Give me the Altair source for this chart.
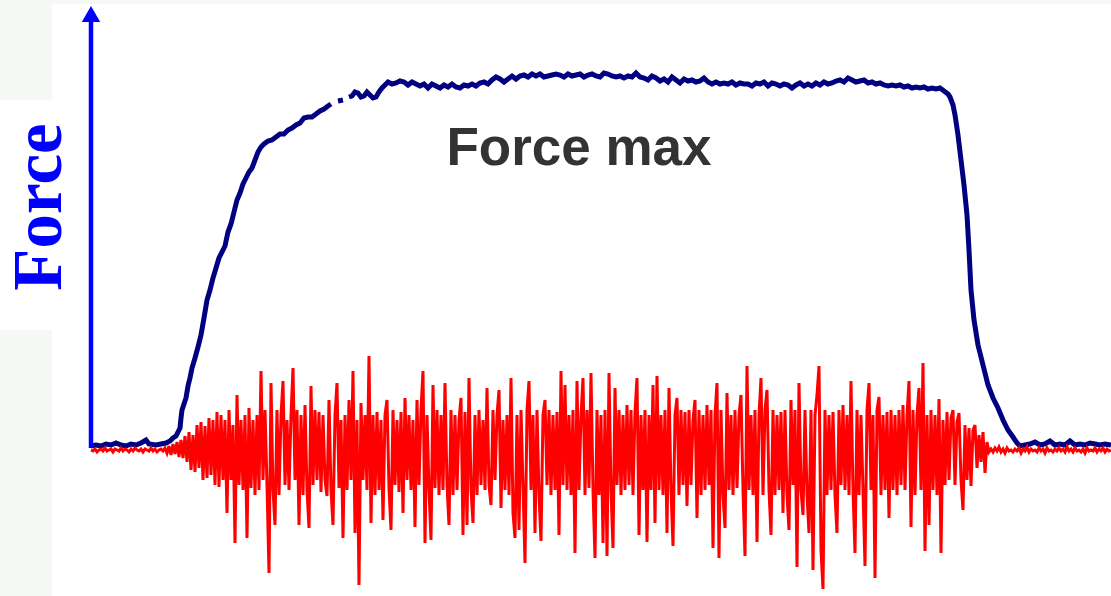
import altair as alt
import pandas as pd

# ---------------------------------------------------------------------------
# Force signal (N) during a maximal isometric contraction
# ---------------------------------------------------------------------------
rise_t = [0.00, 0.05, 0.10, 0.15, 0.20, 0.25, 0.30, 0.35, 0.40, 0.45,
          0.50, 0.55, 0.58, 0.65, 0.70, 0.75, 0.79, 0.82, 0.85, 0.87,
          0.89, 0.90, 0.91, 0.93, 0.95, 0.97, 0.99, 1.01, 1.04, 1.07,
          1.10, 1.13, 1.16, 1.19, 1.22, 1.25, 1.28, 1.31, 1.34, 1.37,
          1.40, 1.43, 1.46, 1.49, 1.52, 1.55, 1.58, 1.61, 1.64, 1.67,
          1.70, 1.73, 1.77, 1.81, 1.85, 1.89, 1.93, 1.97, 2.01, 2.05,
          2.09, 2.13, 2.17, 2.21, 2.25, 2.29, 2.33, 2.37, 2.40, 2.44,
          2.47, 2.52, 2.55, 2.58, 2.61, 2.64, 2.67, 2.70, 2.73, 2.76,
          2.79, 2.82, 2.85, 2.88, 2.91, 2.94, 2.97]
rise_n = [-2, -1, -2, 0, -1, 1, -1, -2, 0, -1,
          1, 4, 0, -1, 0, 1, 3, 6, 8, 12,
          16, 26, 34, 40, 46, 58, 66, 76, 86, 97,
          109, 126, 144, 154, 166, 176, 186, 192, 198, 212,
          220, 232, 244, 251, 260, 266, 272, 276, 284, 292,
          297, 300, 303, 304, 307, 310, 310, 314, 316, 319,
          321, 326, 327, 327, 330, 333, 335, 338, 340, None,
          343, 344, None, 347, 348, 352, 351, 347, 348, 352,
          349, 346, 347, 352, 356, 359, 362]

# plateau, sampled every 40 ms from 3.01 s
plateau_start = 3.01
plateau_step = 0.04
plateau_n = [360, 361, 363, 362, 359, 362, 360, 358, 360, 356,
             360, 358, 356, 359, 357, 360, 357, 356, 359, 358,
             360, 358, 361, 362, 360, 364, 367, 365, 362, 365,
             368, 365, 368, 369, 367, 370, 368, 370, 367, 368,
             369, 370, 369, 367, 370, 368, 369, 370, 367, 369,
             370, 368, 367, 371, 370, 368, 367, 368, 366, 368,
             367, 371, 367, 366, 364, 368, 366, 363, 365, 362,
             367, 364, 361, 365, 363, 364, 362, 363, 366, 362,
             360, 362, 360, 361, 360, 362, 359, 361, 360, 360,
             358, 361, 360, 362, 358, 361, 360, 358, 360, 359,
             356, 359, 361, 358, 360, 358, 361, 359, 362, 360,
             361, 363, 364, 362, 366, 364, 362, 363, 364, 361,
             362, 360, 361, 359, 358, 359, 358, 359, 357, 358,
             356, 357, 356, 357, 355, 356, 355, 356, 353]

fall_t = [8.57, 8.59, 8.62, 8.64, 8.67, 8.70, 8.73, 8.76, 8.78, 8.80,
          8.83, 8.87, 8.92, 8.97, 9.02, 9.07, 9.12, 9.17, 9.22, 9.26,
          9.29, 9.34, 9.39, 9.44, 9.49, 9.54, 9.59, 9.64, 9.69, 9.74,
          9.79, 9.84, 9.89, 9.94, 9.99, 10.04, 10.09, 10.14, 10.20]
fall_n = [350, 347, 339, 329, 309, 284, 259, 229, 194, 154,
          124, 99, 79, 59, 46, 36, 24, 14, 7, 1,
          -2, -1, 0, 2, -1, 0, 3, -1, 0, -1,
          3, -1, 0, -1, 1, 0, -1, 0, -1]

# ---------------------------------------------------------------------------
# Surface EMG (mV), sampled every 20 ms from 0 s
# ---------------------------------------------------------------------------
emg_step = 0.02
emg_rest_before = [0.00, -0.01, 0.01, -0.02, 0.00, 0.01, -0.01, 0.02, -0.01, 0.00,
                   0.01, -0.02, 0.01, 0.00, -0.01, 0.02, -0.01, 0.01, 0.00, -0.02,
                   0.01, -0.01, 0.02, 0.00, -0.01, 0.01, -0.02, 0.01, 0.00, -0.01,
                   0.02, -0.01, 0.01, -0.02, 0.00, 0.01, -0.01]
emg_burst = [0.02, -0.03, 0.04, -0.05, 0.06, -0.04, 0.08, -0.07, 0.10, -0.08,
             0.14, -0.12, 0.18, -0.20, 0.15, -0.22, 0.25, -0.18, 0.28, -0.30,
             0.24, -0.28, 0.32, -0.25, 0.30, -0.35, 0.38, -0.37, 0.35, -0.30,
             0.30, -0.63, 0.40, -0.30, 0.25, -0.93, 0.55, -0.35, 0.30, -0.40,
             0.35, -0.88, 0.42, -0.38, 0.30, -0.45, 0.35, -0.40, 0.79, -0.30,
             0.40, -0.35, -1.23, 0.67, -0.40, -0.75, 0.40, -0.45, 0.35, 0.69,
             -0.35, 0.30, -0.40, 0.35, 0.82, -0.30, 0.40, -0.75, 0.35, -0.45,
             0.45, -0.40, -0.78, 0.64, -0.35, 0.40, -0.30, 0.38, -0.42, 0.35,
             -0.30, -0.46, 0.50, -0.40, -0.75, 0.35, 0.67, -0.38, 0.30, -0.88,
             0.35, -0.40, 0.50, -0.30, 0.79, -0.83, 0.30, -1.35, 0.47, -0.30,
             0.35, -0.40, 0.94, -0.73, 0.35, -0.45, 0.38, -0.40, 0.30, -0.70,
             0.35, 0.50, -0.38, -0.80, 0.40, -0.35, 0.30, -0.42, 0.38, -0.63,
             0.52, -0.30, 0.35, -0.40, 0.30, -0.77, 0.50, -0.35, 0.40, 0.79,
             -0.93, 0.35, -0.40, -0.90, 0.65, -0.38, 0.40, -0.45, 0.35, -0.40,
             0.67, -0.35, -0.75, 0.40, -0.45, 0.35, -0.40, 0.30, 0.52, -0.85,
             0.38, -0.75, 0.72, -0.40, -0.73, 0.35, -0.45, 0.40, -0.35, 0.30,
             -0.40, 0.62, -0.35, -0.55, 0.40, -0.30, 0.35, 0.60, -0.58, 0.30,
             -0.40, 0.35, -0.45, 0.72, -0.63, -0.88, 0.35, -0.80, 0.40, -0.35,
             -1.13, 0.40, 0.69, -0.40, 0.35, -0.83, 0.40, -0.45, -0.91, 0.35,
             0.50, -0.35, 0.40, -0.45, 0.35, -0.40, 0.38, -0.85, 0.79, -0.35,
             0.65, -0.40, 0.35, -0.45, 0.40, -1.03, 0.69, -0.40, 0.35, 0.72,
             -0.45, 0.40, -0.38, 0.77, -0.40, -1.08, 0.40, -0.45, 0.35, -0.93,
             0.40, -1.06, 0.77, -0.40, -0.98, 0.62, -0.35, 0.40, -0.45, 0.35,
             -0.40, 0.45, -0.35, 0.40, -0.45, 0.38, 0.72, -0.85, 0.35, -0.40,
             0.40, -0.92, 0.35, -0.40, 0.65, -0.73, 0.74, -0.40, 0.35, -0.45,
             0.40, -0.83, 0.62, -0.40, -0.96, 0.35, 0.52, -0.45, 0.40, -0.35,
             0.38, -0.56, 0.40, -0.35, 0.30, 0.50, -0.68, 0.40, -0.45, 0.35,
             -0.40, 0.45, -0.35, 0.40, -0.98, 0.35, 0.67, -1.08, 0.40, -0.45,
             -0.78, 0.57, -0.40, 0.35, -0.45, 0.40, -0.38, 0.35, 0.55, -0.40,
             -1.06, 0.84, -0.40, 0.35, -0.45, 0.40, -0.92, 0.35, 0.72, -0.45,
             0.40, 0.60, -0.40, -0.85, 0.40, -0.45, 0.35, -0.40, 0.38, -0.63,
             0.40, -0.45, -0.80, 0.50, -0.35, 0.40, -1.17, 0.67, -0.40, -0.65,
             0.40, -0.45, -0.83, 0.40, -1.20, 0.35, 0.55, 0.84, -1.00, -1.39,
             0.40, -0.45, 0.35, -0.40, 0.38, -0.45, -0.83, 0.40, -0.35, 0.45,
             -0.40, 0.35, -0.45, 0.69, -0.40, -1.03, 0.40, -0.45, 0.35, -0.40,
             -1.16, 0.40, 0.67, -0.40, 0.35, -1.28, 0.40, 0.53, -0.45, 0.35,
             -0.40, 0.38, -0.68, 0.40, -0.40, 0.35, -0.45, 0.40, -0.35, 0.45,
             -0.40, 0.35, 0.69, -0.77, 0.40, -0.45, 0.35, 0.62, -0.40, 0.87,
             -1.01, 0.35, -0.75, 0.40, -0.40, 0.35, -0.45, 0.51, -1.03, 0.30,
             -0.35, 0.38, -0.30, 0.32, 0.40, -0.35, 0.28, 0.37, -0.30, -0.60,
             0.25, -0.30, 0.22, -0.36, 0.20, 0.25, -0.18, 0.15, -0.12, 0.18,
             -0.23, 0.08, -0.02]
emg_rest_after = [0.01, -0.02, 0.02, -0.01, 0.03, -0.02, 0.01, -0.03, 0.02, -0.01,
                  0.00, -0.02, 0.01, -0.01, 0.02, -0.03, 0.01, -0.01, 0.03, -0.02,
                  0.01, -0.01, 0.00, -0.02, 0.02, -0.01, 0.01, -0.03, 0.02, -0.01,
                  0.00, -0.02, 0.01, -0.01, 0.02, -0.01, 0.01, -0.02, 0.03, -0.01,
                  0.01, -0.02, 0.02, -0.01, 0.00, -0.02, 0.01, -0.03, 0.02, -0.01,
                  0.00, -0.01, 0.02, -0.02, 0.01, -0.01, 0.02, -0.02, 0.01, -0.01,
                  0.00]

# ---------------------------------------------------------------------------
# Tables
# ---------------------------------------------------------------------------
assert len(rise_t) == len(rise_n) and len(fall_t) == len(fall_n)
plateau_t = [round(plateau_start + k * plateau_step, 2) for k in range(len(plateau_n))]
force_df = pd.DataFrame({
    "t": rise_t + plateau_t + fall_t,
    "force": rise_n + plateau_n + fall_n,
})

emg_mv = emg_rest_before + emg_burst + emg_rest_after
emg_df = pd.DataFrame({
    "t": [round(k * emg_step, 2) for k in range(len(emg_mv))],
    "emg": emg_mv,
})

W, H = 1111, 596
one_row = alt.Data(values=[{"k": 0}])

x_scale = alt.Scale(domain=[-0.91, 10.20], nice=False, zero=False)
force_scale = alt.Scale(domain=[-152, 444], nice=False, zero=False)
emg_scale = alt.Scale(domain=[-1.46, 4.5], nice=False, zero=False)

# light panels behind the label column
panel_color = "#f6f8f6"
panels = [
    alt.Chart(one_row).mark_rect(color=panel_color).encode(
        x=alt.value(0), x2=alt.value(W), y=alt.value(0), y2=alt.value(4)),
    alt.Chart(one_row).mark_rect(color=panel_color).encode(
        x=alt.value(0), x2=alt.value(52), y=alt.value(0), y2=alt.value(100)),
    alt.Chart(one_row).mark_rect(color=panel_color).encode(
        x=alt.value(0), x2=alt.value(52), y=alt.value(330), y2=alt.value(H)),
]

force_line = alt.Chart(force_df).mark_line(
    color="#000080", strokeWidth=5, invalid="break-paths-show-domains"
).encode(
    x=alt.X("t:Q", scale=x_scale, axis=None),
    y=alt.Y("force:Q", scale=force_scale, axis=None),
)

emg_line = alt.Chart(emg_df).mark_line(color="#ff0000", strokeWidth=3).encode(
    x=alt.X("t:Q", scale=x_scale, axis=None),
    y=alt.Y("emg:Q", scale=emg_scale, axis=None),
)

# hand-drawn style force axis with arrow head
axis_rule = alt.Chart(one_row).mark_rule(color="#0000ff", strokeWidth=4.5).encode(
    x=alt.value(91), y=alt.value(20), y2=alt.value(448))
arrow_head = alt.Chart(one_row).mark_point(
    shape="triangle-up", filled=True, size=340, color="#0000ff", opacity=1
).encode(x=alt.value(91), y=alt.value(14))

axis_label = alt.Chart(one_row).mark_text(
    text="Force", font="Liberation Serif", fontWeight="bold", fontSize=69,
    color="#0000ff", angle=270, align="center", baseline="alphabetic"
).encode(x=alt.value(61), y=alt.value(207))

peak_label = alt.Chart(one_row).mark_text(
    text="Force max", font="Liberation Sans", fontWeight="bold", fontSize=53,
    color="#333333", align="center", baseline="alphabetic"
).encode(x=alt.value(579), y=alt.value(165))

chart = alt.layer(
    *panels, force_line, emg_line, axis_rule, arrow_head, axis_label, peak_label
).resolve_scale(
    y="independent"
).properties(
    width=W, height=H, padding=0, autosize=alt.AutoSizeParams(type="none"),
    background="white"
).configure_view(stroke=None)

chart.save("out.html", embed_options={"renderer": "svg", "actions": False})
